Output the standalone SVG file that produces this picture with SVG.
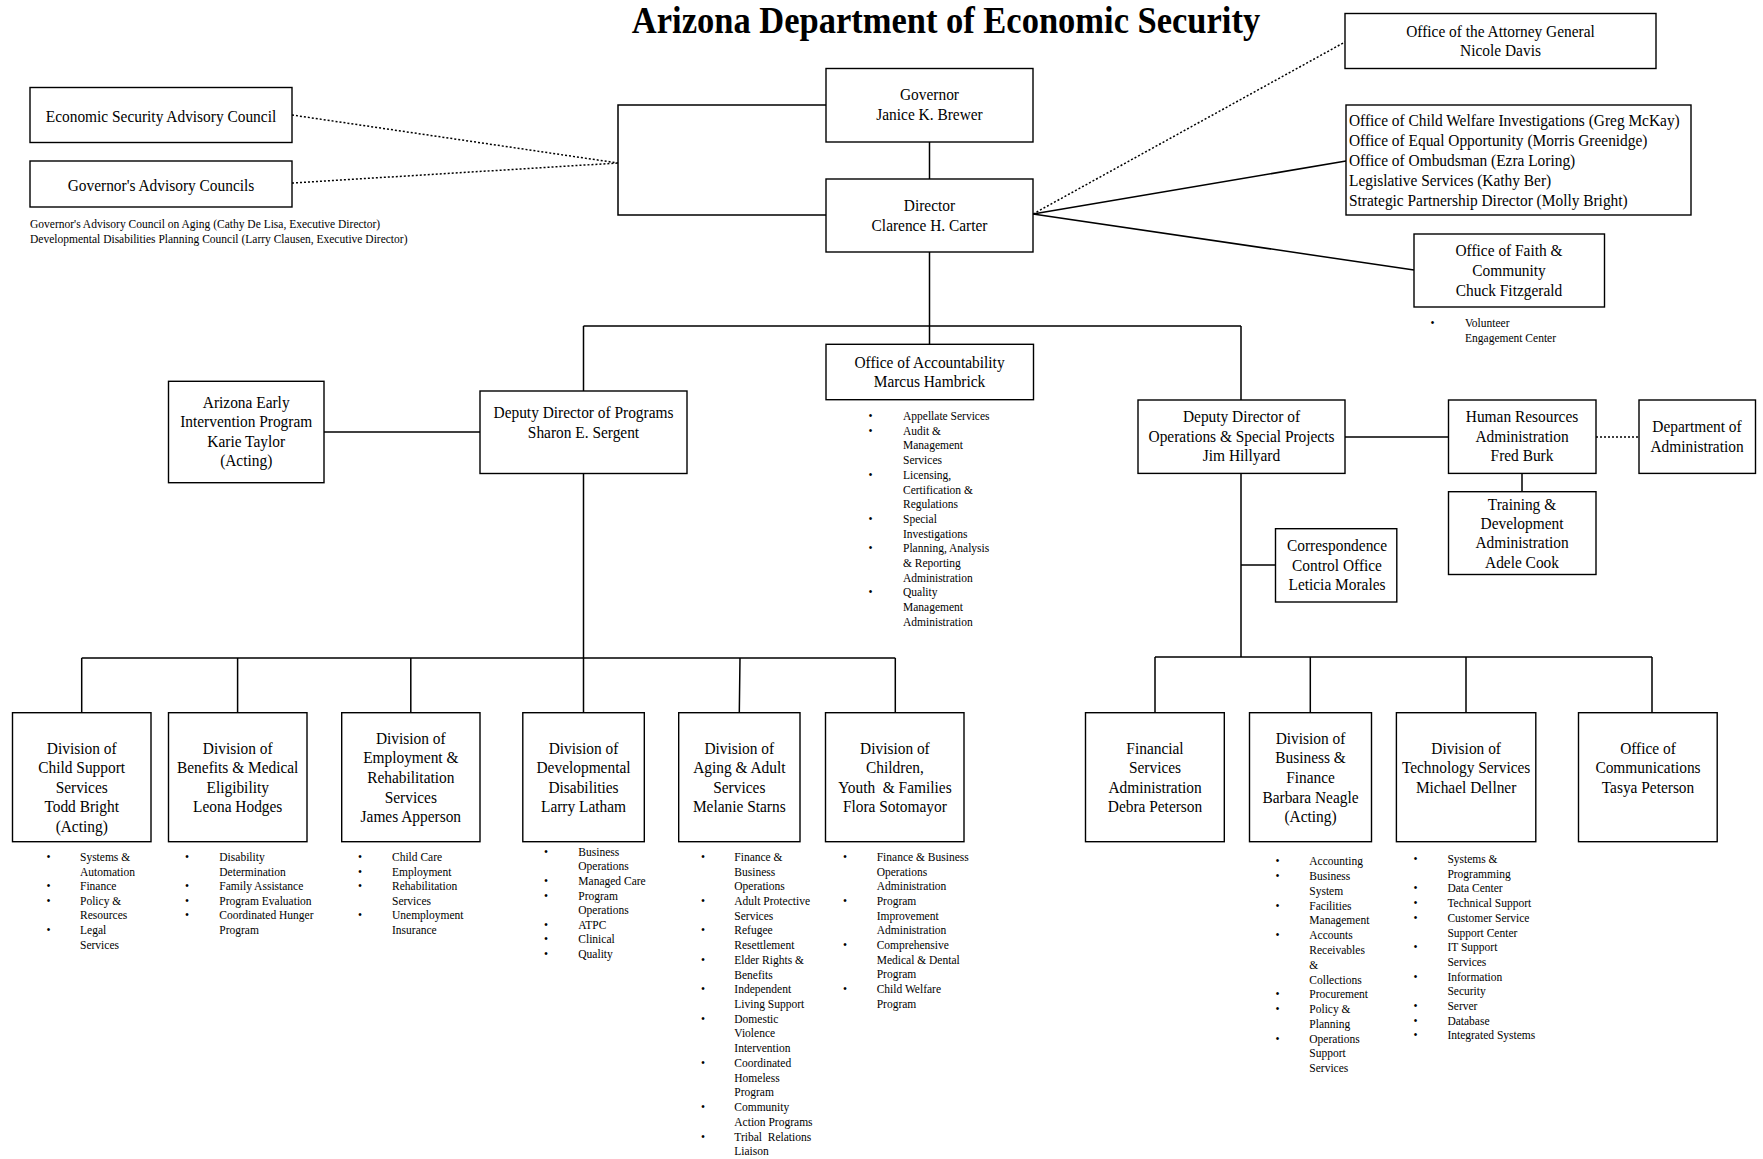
<svg xmlns="http://www.w3.org/2000/svg" width="1763" height="1159" viewBox="0 0 1763 1159">
<style>
.bg{fill:#fff}
.box{fill:#fff;stroke:#000;stroke-width:1.4}
.ln{fill:none;stroke:#000;stroke-width:1.5}
.dot{fill:none;stroke:#000;stroke-width:1.5;stroke-dasharray:2 2}
.t{font-family:"Liberation Serif","Times New Roman",serif;font-size:15.4px;fill:#000;text-anchor:middle}
.tl{text-anchor:start}
.ttl{font-family:"Liberation Serif","Times New Roman",serif;font-size:34.5px;font-weight:bold;fill:#000;text-anchor:middle}
.b{font-family:"Liberation Serif","Times New Roman",serif;font-size:11.5px;fill:#000}
.n{font-family:"Liberation Serif","Times New Roman",serif;font-size:11.5px;fill:#000}
</style>
<rect class="bg" x="0" y="0" width="1763" height="1159"/>
<text class="ttl" transform="translate(946 33.3) scale(1 1.13)">Arizona Department of Economic Security</text>

<g id="connectors">
<path class="ln" d="M826,105 H618 V215 H826"/>
<path class="dot" d="M292,115 L618,163 M292,183 L618,163"/>
<path class="ln" d="M929.5,142 V179"/>
<path class="dot" d="M1033,214 L1345,42"/>
<path class="ln" d="M1033,214 L1346,161 M1033,214 L1414,270"/>
<path class="ln" d="M929.5,252 V344.3 M583.5,326 H1241 M583.5,326 V391 M1241,326 V400"/>
<path class="ln" d="M324,432 H480"/>
<path class="ln" d="M583.5,473.5 V658 M81.7,658 H895.3 M81.7,658 V712.7 M237.6,658 V712.7 M410.8,658 V712.7 M583.5,658 V712.7 M740,658 L739.3,712.7 M895.3,658 V712.7"/>
<path class="ln" d="M1241,473.4 V657 M1241,565 H1292 M1345,437 H1448.5 M1522,473.4 V491.7"/>
<path class="dot" d="M1596,437 H1639"/>
<path class="ln" d="M1155,657 H1652 M1155,657 V712.7 M1310.3,657 V712.7 M1466,657 V712.7 M1652,657 V712.7"/>
</g>

<g id="esac"><rect class="box" x="30" y="87.5" width="262" height="55"/>
<text class="t" transform="translate(161 121.5) scale(1 1.13)">Economic Security Advisory Council</text></g>

<g id="gac"><rect class="box" x="30" y="161" width="262" height="46"/>
<text class="t" transform="translate(161 190.5) scale(1 1.13)">Governor's Advisory Councils</text>
<text class="n"><tspan x="30" y="227.5">Governor's Advisory Council on Aging (Cathy De Lisa, Executive Director)</tspan><tspan x="30" y="242.8">Developmental Disabilities Planning Council (Larry Clausen, Executive Director)</tspan></text></g>

<g id="governor"><rect class="box" x="826" y="68.5" width="207" height="73.5"/>
<text class="t" transform="translate(929.5 100) scale(1 1.13)"><tspan x="0" y="0">Governor</tspan><tspan x="0" dy="17.7">Janice K. Brewer</tspan></text></g>

<g id="director"><rect class="box" x="826" y="179" width="207" height="73"/>
<text class="t" transform="translate(929.5 211.3) scale(1 1.13)"><tspan x="0" y="0">Director</tspan><tspan x="0" dy="17.8">Clarence H. Carter</tspan></text></g>

<g id="attorney-general"><rect class="box" x="1345" y="13.5" width="311" height="55"/>
<text class="t" transform="translate(1500.5 36.8) scale(1 1.13)"><tspan x="0" y="0">Office of the Attorney General</tspan><tspan x="0" dy="17.4">Nicole Davis</tspan></text></g>

<g id="offices"><rect class="box" x="1346" y="105" width="345" height="110"/>
<text class="t tl" transform="translate(1349 125.8) scale(1 1.13)"><tspan x="0" y="0">Office of Child Welfare Investigations (Greg McKay)</tspan><tspan x="0" dy="17.65">Office of Equal Opportunity (Morris Greenidge)</tspan><tspan x="0" dy="17.65">Office of Ombudsman (Ezra Loring)</tspan><tspan x="0" dy="17.65">Legislative Services (Kathy Ber)</tspan><tspan x="0" dy="17.65">Strategic Partnership Director (Molly Bright)</tspan></text></g>

<g id="faith"><rect class="box" x="1414" y="234" width="190.5" height="73"/>
<text class="t" transform="translate(1509 256.2) scale(1 1.13)"><tspan x="0" y="0">Office of Faith &amp;</tspan><tspan x="0" dy="17.6">Community</tspan><tspan x="0" dy="17.6">Chuck Fitzgerald</tspan></text>
<text class="b"><tspan x="1430.5" y="326.7">•</tspan></text>
<text class="b"><tspan x="1465" y="326.7">Volunteer</tspan><tspan x="1465" y="342.4">Engagement Center</tspan></text></g>

<g id="accountability"><rect class="box" x="826" y="344.3" width="207.5" height="55.4"/>
<text class="t" transform="translate(929.5 367.8) scale(1 1.13)"><tspan x="0" y="0">Office of Accountability</tspan><tspan x="0" dy="17.2">Marcus Hambrick</tspan></text>
<text class="b"><tspan x="868.5" y="420">•</tspan><tspan x="868.5" y="434.7">•</tspan><tspan x="868.5" y="478.8">•</tspan><tspan x="868.5" y="522.9">•</tspan><tspan x="868.5" y="552.3">•</tspan><tspan x="868.5" y="596.4">•</tspan></text>
<text class="b"><tspan x="903" y="420">Appellate Services</tspan><tspan x="903" y="434.7">Audit &amp;</tspan><tspan x="903" y="449.4">Management</tspan><tspan x="903" y="464.1">Services</tspan><tspan x="903" y="478.8">Licensing,</tspan><tspan x="903" y="493.5">Certification &amp;</tspan><tspan x="903" y="508.2">Regulations</tspan><tspan x="903" y="522.9">Special</tspan><tspan x="903" y="537.6">Investigations</tspan><tspan x="903" y="552.3">Planning, Analysis</tspan><tspan x="903" y="567">&amp; Reporting</tspan><tspan x="903" y="581.7">Administration</tspan><tspan x="903" y="596.4">Quality</tspan><tspan x="903" y="611.1">Management</tspan><tspan x="903" y="625.8">Administration</tspan></text></g>

<g id="azeip"><rect class="box" x="168.5" y="381.3" width="155.5" height="101.4"/>
<text class="t" transform="translate(246.2 408) scale(1 1.13)"><tspan x="0" y="0">Arizona Early</tspan><tspan x="0" dy="17.25">Intervention Program</tspan><tspan x="0" dy="17.25">Karie Taylor</tspan><tspan x="0" dy="17.25">(Acting)</tspan></text></g>

<g id="deputy-programs"><rect class="box" x="480" y="391" width="207" height="82.5"/>
<text class="t" transform="translate(583.5 417.8) scale(1 1.13)"><tspan x="0" y="0">Deputy Director of Programs</tspan><tspan x="0" dy="17.7">Sharon E. Sergent</tspan></text></g>

<g id="deputy-operations"><rect class="box" x="1138" y="400" width="207" height="73.4"/>
<text class="t" transform="translate(1241.5 422) scale(1 1.13)"><tspan x="0" y="0">Deputy Director of</tspan><tspan x="0" dy="17.45">Operations &amp; Special Projects</tspan><tspan x="0" dy="17.45">Jim Hillyard</tspan></text></g>

<g id="hr"><rect class="box" x="1448.5" y="400" width="147.5" height="73.4"/>
<text class="t" transform="translate(1522 422) scale(1 1.13)"><tspan x="0" y="0">Human Resources</tspan><tspan x="0" dy="17.45">Administration</tspan><tspan x="0" dy="17.45">Fred Burk</tspan></text></g>

<g id="dept-admin"><rect class="box" x="1639" y="400" width="116.5" height="73.4"/>
<text class="t" transform="translate(1697 432) scale(1 1.13)"><tspan x="0" y="0">Department of</tspan><tspan x="0" dy="17.3">Administration</tspan></text></g>

<g id="training"><rect class="box" x="1448.5" y="491.7" width="147.5" height="82.8"/>
<text class="t" transform="translate(1522 509.5) scale(1 1.13)"><tspan x="0" y="0">Training &amp;</tspan><tspan x="0" dy="17.25">Development</tspan><tspan x="0" dy="17.25">Administration</tspan><tspan x="0" dy="17.25">Adele Cook</tspan></text></g>

<g id="correspondence"><rect class="box" x="1275.5" y="528.7" width="121.3" height="73.3"/>
<text class="t" transform="translate(1337 551) scale(1 1.13)"><tspan x="0" y="0">Correspondence</tspan><tspan x="0" dy="17.3">Control Office</tspan><tspan x="0" dy="17.3">Leticia Morales</tspan></text></g>

<g id="child-support"><rect class="box" x="12.5" y="712.7" width="138.5" height="129"/>
<text class="t" transform="translate(81.7 753.5) scale(1 1.13)"><tspan x="0" y="0">Division of</tspan><tspan x="0" dy="17.35">Child Support</tspan><tspan x="0" dy="17.35">Services</tspan><tspan x="0" dy="17.35">Todd Bright</tspan><tspan x="0" dy="17.35">(Acting)</tspan></text>
<text class="b"><tspan x="46.5" y="860.8">•</tspan><tspan x="46.5" y="890.1">•</tspan><tspan x="46.5" y="904.8">•</tspan><tspan x="46.5" y="934.1">•</tspan></text>
<text class="b"><tspan x="80" y="860.8">Systems &amp;</tspan><tspan x="80" y="875.5">Automation</tspan><tspan x="80" y="890.1">Finance</tspan><tspan x="80" y="904.8">Policy &amp;</tspan><tspan x="80" y="919.4">Resources</tspan><tspan x="80" y="934.1">Legal</tspan><tspan x="80" y="948.7">Services</tspan></text></g>

<g id="benefits"><rect class="box" x="168.5" y="712.7" width="138.5" height="129"/>
<text class="t" transform="translate(237.7 753.5) scale(1 1.13)"><tspan x="0" y="0">Division of</tspan><tspan x="0" dy="17.35">Benefits &amp; Medical</tspan><tspan x="0" dy="17.35">Eligibility</tspan><tspan x="0" dy="17.35">Leona Hodges</tspan></text>
<text class="b"><tspan x="185" y="860.8">•</tspan><tspan x="185" y="890.1">•</tspan><tspan x="185" y="904.8">•</tspan><tspan x="185" y="919.4">•</tspan></text>
<text class="b"><tspan x="219.3" y="860.8">Disability</tspan><tspan x="219.3" y="875.5">Determination</tspan><tspan x="219.3" y="890.1">Family Assistance</tspan><tspan x="219.3" y="904.8">Program Evaluation</tspan><tspan x="219.3" y="919.4">Coordinated Hunger</tspan><tspan x="219.3" y="934.1">Program</tspan></text></g>

<g id="employment"><rect class="box" x="341.7" y="712.7" width="138.3" height="129"/>
<text class="t" transform="translate(410.8 743.8) scale(1 1.13)"><tspan x="0" y="0">Division of</tspan><tspan x="0" dy="17.35">Employment &amp;</tspan><tspan x="0" dy="17.35">Rehabilitation</tspan><tspan x="0" dy="17.35">Services</tspan><tspan x="0" dy="17.35">James Apperson</tspan></text>
<text class="b"><tspan x="358" y="860.8">•</tspan><tspan x="358" y="875.5">•</tspan><tspan x="358" y="890.1">•</tspan><tspan x="358" y="919.4">•</tspan></text>
<text class="b"><tspan x="392" y="860.8">Child Care</tspan><tspan x="392" y="875.5">Employment</tspan><tspan x="392" y="890.1">Rehabilitation</tspan><tspan x="392" y="904.8">Services</tspan><tspan x="392" y="919.4">Unemployment</tspan><tspan x="392" y="934.1">Insurance</tspan></text></g>

<g id="developmental"><rect class="box" x="522.8" y="712.7" width="121.5" height="129"/>
<text class="t" transform="translate(583.5 753.5) scale(1 1.13)"><tspan x="0" y="0">Division of</tspan><tspan x="0" dy="17.35">Developmental</tspan><tspan x="0" dy="17.35">Disabilities</tspan><tspan x="0" dy="17.35">Larry Latham</tspan></text>
<text class="b"><tspan x="544" y="855.5">•</tspan><tspan x="544" y="884.8">•</tspan><tspan x="544" y="899.5">•</tspan><tspan x="544" y="928.8">•</tspan><tspan x="544" y="943.4">•</tspan><tspan x="544" y="958.1">•</tspan></text>
<text class="b"><tspan x="578.3" y="855.5">Business</tspan><tspan x="578.3" y="870.2">Operations</tspan><tspan x="578.3" y="884.8">Managed Care</tspan><tspan x="578.3" y="899.5">Program</tspan><tspan x="578.3" y="914.1">Operations</tspan><tspan x="578.3" y="928.8">ATPC</tspan><tspan x="578.3" y="943.4">Clinical</tspan><tspan x="578.3" y="958.1">Quality</tspan></text></g>

<g id="aging"><rect class="box" x="678.7" y="712.7" width="121.3" height="129"/>
<text class="t" transform="translate(739.3 753.5) scale(1 1.13)"><tspan x="0" y="0">Division of</tspan><tspan x="0" dy="17.35">Aging &amp; Adult</tspan><tspan x="0" dy="17.35">Services</tspan><tspan x="0" dy="17.35">Melanie Starns</tspan></text>
<text class="b"><tspan x="701" y="860.8">•</tspan><tspan x="701" y="905">•</tspan><tspan x="701" y="934.4">•</tspan><tspan x="701" y="963.8">•</tspan><tspan x="701" y="993.3">•</tspan><tspan x="701" y="1022.7">•</tspan><tspan x="701" y="1066.9">•</tspan><tspan x="701" y="1111">•</tspan><tspan x="701" y="1140.5">•</tspan></text>
<text class="b" xml:space="preserve"><tspan x="734.3" y="860.8">Finance &amp;</tspan><tspan x="734.3" y="875.5">Business</tspan><tspan x="734.3" y="890.2">Operations</tspan><tspan x="734.3" y="905">Adult Protective</tspan><tspan x="734.3" y="919.7">Services</tspan><tspan x="734.3" y="934.4">Refugee</tspan><tspan x="734.3" y="949.1">Resettlement</tspan><tspan x="734.3" y="963.8">Elder Rights &amp;</tspan><tspan x="734.3" y="978.6">Benefits</tspan><tspan x="734.3" y="993.3">Independent</tspan><tspan x="734.3" y="1008">Living Support</tspan><tspan x="734.3" y="1022.7">Domestic</tspan><tspan x="734.3" y="1037.4">Violence</tspan><tspan x="734.3" y="1052.2">Intervention</tspan><tspan x="734.3" y="1066.9">Coordinated</tspan><tspan x="734.3" y="1081.6">Homeless</tspan><tspan x="734.3" y="1096.3">Program</tspan><tspan x="734.3" y="1111">Community</tspan><tspan x="734.3" y="1125.8">Action Programs</tspan><tspan x="734.3" y="1140.5">Tribal  Relations</tspan><tspan x="734.3" y="1155.2">Liaison</tspan></text></g>

<g id="children"><rect class="box" x="825.5" y="712.7" width="138.5" height="129"/>
<text class="t" xml:space="preserve" transform="translate(894.9 753.5) scale(1 1.13)"><tspan x="0" y="0">Division of</tspan><tspan x="0" dy="17.35">Children,</tspan><tspan x="0" dy="17.35">Youth  &amp; Families</tspan><tspan x="0" dy="17.35">Flora Sotomayor</tspan></text>
<text class="b"><tspan x="843" y="860.8">•</tspan><tspan x="843" y="904.9">•</tspan><tspan x="843" y="949">•</tspan><tspan x="843" y="993.1">•</tspan></text>
<text class="b"><tspan x="876.7" y="860.8">Finance &amp; Business</tspan><tspan x="876.7" y="875.5">Operations</tspan><tspan x="876.7" y="890.2">Administration</tspan><tspan x="876.7" y="904.9">Program</tspan><tspan x="876.7" y="919.6">Improvement</tspan><tspan x="876.7" y="934.3">Administration</tspan><tspan x="876.7" y="949">Comprehensive</tspan><tspan x="876.7" y="963.7">Medical &amp; Dental</tspan><tspan x="876.7" y="978.4">Program</tspan><tspan x="876.7" y="993.1">Child Welfare</tspan><tspan x="876.7" y="1007.8">Program</tspan></text></g>

<g id="financial-services"><rect class="box" x="1085.5" y="712.7" width="138.8" height="129"/>
<text class="t" transform="translate(1155 753.5) scale(1 1.13)"><tspan x="0" y="0">Financial</tspan><tspan x="0" dy="17.35">Services</tspan><tspan x="0" dy="17.35">Administration</tspan><tspan x="0" dy="17.35">Debra Peterson</tspan></text></g>

<g id="business-finance"><rect class="box" x="1249.5" y="712.7" width="122" height="129"/>
<text class="t" transform="translate(1310.5 743.8) scale(1 1.13)"><tspan x="0" y="0">Division of</tspan><tspan x="0" dy="17.35">Business &amp;</tspan><tspan x="0" dy="17.35">Finance</tspan><tspan x="0" dy="17.35">Barbara Neagle</tspan><tspan x="0" dy="17.35">(Acting)</tspan></text>
<text class="b"><tspan x="1275.5" y="865.3">•</tspan><tspan x="1275.5" y="880.1">•</tspan><tspan x="1275.5" y="909.6">•</tspan><tspan x="1275.5" y="939.2">•</tspan><tspan x="1275.5" y="998.3">•</tspan><tspan x="1275.5" y="1013.1">•</tspan><tspan x="1275.5" y="1042.7">•</tspan></text>
<text class="b"><tspan x="1309.3" y="865.3">Accounting</tspan><tspan x="1309.3" y="880.1">Business</tspan><tspan x="1309.3" y="894.9">System</tspan><tspan x="1309.3" y="909.6">Facilities</tspan><tspan x="1309.3" y="924.4">Management</tspan><tspan x="1309.3" y="939.2">Accounts</tspan><tspan x="1309.3" y="954">Receivables</tspan><tspan x="1309.3" y="968.8">&amp;</tspan><tspan x="1309.3" y="983.5">Collections</tspan><tspan x="1309.3" y="998.3">Procurement</tspan><tspan x="1309.3" y="1013.1">Policy &amp;</tspan><tspan x="1309.3" y="1027.9">Planning</tspan><tspan x="1309.3" y="1042.7">Operations</tspan><tspan x="1309.3" y="1057.4">Support</tspan><tspan x="1309.3" y="1072.2">Services</tspan></text></g>

<g id="technology"><rect class="box" x="1396.4" y="712.7" width="139.4" height="129"/>
<text class="t" transform="translate(1466.1 753.5) scale(1 1.13)"><tspan x="0" y="0">Division of</tspan><tspan x="0" dy="17.35">Technology Services</tspan><tspan x="0" dy="17.35">Michael Dellner</tspan></text>
<text class="b"><tspan x="1413.5" y="863">•</tspan><tspan x="1413.5" y="892.4">•</tspan><tspan x="1413.5" y="907.1">•</tspan><tspan x="1413.5" y="921.8">•</tspan><tspan x="1413.5" y="951.2">•</tspan><tspan x="1413.5" y="980.6">•</tspan><tspan x="1413.5" y="1010">•</tspan><tspan x="1413.5" y="1024.7">•</tspan><tspan x="1413.5" y="1039.4">•</tspan></text>
<text class="b"><tspan x="1447.4" y="863">Systems &amp;</tspan><tspan x="1447.4" y="877.7">Programming</tspan><tspan x="1447.4" y="892.4">Data Center</tspan><tspan x="1447.4" y="907.1">Technical Support</tspan><tspan x="1447.4" y="921.8">Customer Service</tspan><tspan x="1447.4" y="936.5">Support Center</tspan><tspan x="1447.4" y="951.2">IT Support</tspan><tspan x="1447.4" y="965.9">Services</tspan><tspan x="1447.4" y="980.6">Information</tspan><tspan x="1447.4" y="995.3">Security</tspan><tspan x="1447.4" y="1010">Server</tspan><tspan x="1447.4" y="1024.7">Database</tspan><tspan x="1447.4" y="1039.4">Integrated Systems</tspan></text></g>

<g id="communications"><rect class="box" x="1578.5" y="712.7" width="138.7" height="129"/>
<text class="t" transform="translate(1648 753.5) scale(1 1.13)"><tspan x="0" y="0">Office of</tspan><tspan x="0" dy="17.35">Communications</tspan><tspan x="0" dy="17.35">Tasya Peterson</tspan></text></g>
</svg>
